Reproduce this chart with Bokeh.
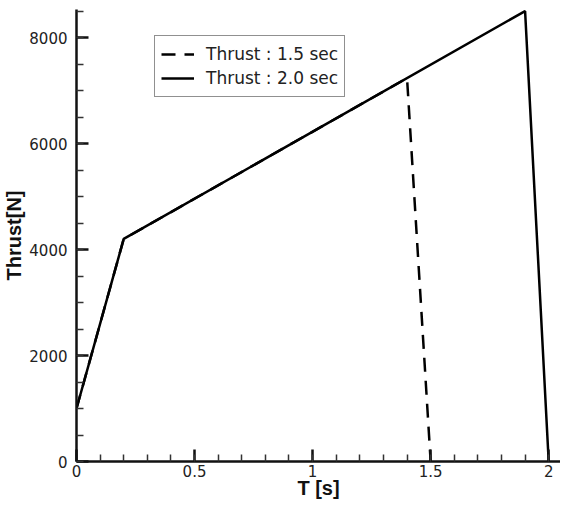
from bokeh.plotting import figure
from bokeh.models import Range1d, Legend, LegendItem, FixedTicker
from bokeh.embed import file_html
from bokeh.resources import INLINE

t_20 = [0.0, 0.2, 1.9, 2.0]
thrust_20 = [1000, 4200, 8500, 0]
t_15 = [0.0, 0.2, 1.4, 1.5]
thrust_15 = [1000, 4200, 7235, 0]
x_ticks = [0, 0.5, 1, 1.5, 2]
y_ticks = [0, 2000, 4000, 6000, 8000]

p = figure(width=560, height=503, output_backend="svg", toolbar_location=None,
           x_range=Range1d(0, 2.05), y_range=Range1d(0, 8530),
           min_border_left=76, min_border_right=0, min_border_top=9, min_border_bottom=42)
p.outline_line_color = None
p.xgrid.grid_line_color = None
p.ygrid.grid_line_color = None
p.background_fill_color = "white"

r15 = p.line(t_15, thrust_15, line_color="black", line_width=2.5, line_dash="14 9")
r20 = p.line(t_20, thrust_20, line_color="black", line_width=2.5)

for ax in (p.xaxis[0], p.yaxis[0]):
    ax.axis_line_width = 2.5
    ax.axis_line_color = "#111111"
    ax.major_tick_in = 12
    ax.major_tick_out = 0
    ax.minor_tick_in = 7
    ax.minor_tick_out = 0
    ax.major_tick_line_width = 2.5
    ax.minor_tick_line_width = 1.5
    ax.major_tick_line_color = "#111111"
    ax.minor_tick_line_color = "#333333"
    ax.major_label_text_font = "DejaVu Sans"
    ax.major_label_text_font_size = "15px"
    ax.major_label_text_color = "#222222"
    ax.axis_label_text_font = "Liberation Sans"
    ax.axis_label_text_font_size = "20px"
    ax.axis_label_text_font_style = "bold"
    ax.axis_label_text_color = "#111111"

p.xaxis.ticker = FixedTicker(ticks=x_ticks, minor_ticks=[i / 10 for i in range(0, 21)])
p.yaxis.ticker = FixedTicker(ticks=y_ticks, minor_ticks=list(range(0, 8501, 500)))
p.xaxis.axis_label = "T [s]"
p.yaxis.axis_label = "Thrust[N]"
p.xaxis.major_label_standoff = 3
p.yaxis.major_label_standoff = 9
p.xaxis.axis_label_standoff = -3
p.yaxis.axis_label_standoff = 1

legend = Legend(items=[LegendItem(label="Thrust : 1.5 sec", renderers=[r15]),
                       LegendItem(label="Thrust : 2.0 sec", renderers=[r20])],
                location=(78, 364))
legend.border_line_color = "#222222"
legend.border_line_width = 1.5
legend.label_text_font = "DejaVu Sans"
legend.label_text_font_size = "17px"
legend.label_text_color = "#222222"
legend.glyph_width = 33
legend.glyph_height = 24
legend.label_height = 24
legend.spacing = 0
legend.padding = 6
legend.margin = 0
legend.label_standoff = 12
legend.background_fill_alpha = 1
p.add_layout(legend, "center")

open("out.html", "w").write(file_html(p, INLINE))
